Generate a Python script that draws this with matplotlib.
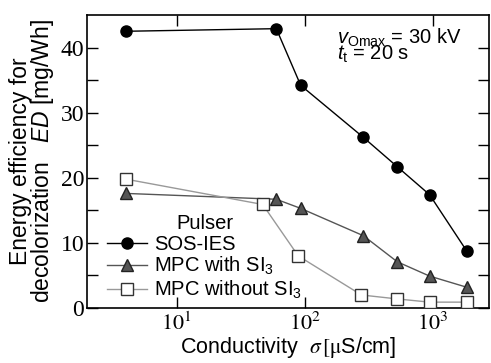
import numpy as np
import matplotlib.pyplot as plt
from matplotlib.ticker import FixedLocator, FuncFormatter, NullLocator

plt.rcParams['font.family'] = 'Liberation Sans'
plt.rcParams['mathtext.fontset'] = 'custom'
plt.rcParams['mathtext.rm'] = 'Liberation Sans'
plt.rcParams['mathtext.it'] = 'Liberation Sans:italic'

# conductivity [uS/cm] and energy efficiency [mg/Wh]
sos_x = [4.0, 60, 93, 287, 527, 942, 1830]
sos_y = [42.5, 42.9, 34.2, 26.2, 21.7, 17.4, 8.8]
mpc_si_x = [4.0, 60, 93, 287, 527, 942, 1830]
mpc_si_y = [17.6, 16.7, 15.3, 11.1, 7.1, 4.9, 3.2]
mpc_x = [4.0, 47, 89, 277, 523, 942, 1830]
mpc_y = [19.8, 15.9, 8.0, 2.0, 1.4, 0.9, 0.9]

fig = plt.figure(figsize=(4.91, 3.63), dpi=100)
ax = fig.add_axes([87/491, 1-308/363, (489-87)/491, (308-15)/363])

ax.plot(sos_x, sos_y, '-o', color='black', lw=1, ms=8, mfc='black', mec='black',
        label='SOS-IES', zorder=4)
ax.plot(mpc_si_x, mpc_si_y, '-^', color='#555555', lw=1, ms=9, mfc='#555555', mec='#222222',
        label='MPC with SI$_3$', zorder=3)
ax.plot(mpc_x, mpc_y, '-s', color='#999999', lw=1, ms=8, mfc='white', mec='#333333',
        label='MPC without SI$_3$', zorder=3)

ax.set_xscale('log')
ax.set_xlim(2, 2740)
ax.set_ylim(0, 45)
ax.xaxis.set_major_locator(FixedLocator([10, 100, 1000]))
ax.xaxis.set_minor_locator(NullLocator())
ax.xaxis.set_major_formatter(FuncFormatter(lambda v, p: '$10^{%d}$' % round(np.log10(v))))
ax.set_yticks(np.arange(0, 45, 5))
ax.set_yticklabels(['0', '', '10', '', '20', '', '30', '', '40'])
ax.tick_params(direction='in', length=8, width=1, top=True, right=True, labelsize=17)
ax.tick_params(axis='x', labelsize=16, pad=3)
ax.tick_params(axis='y', pad=2)
for lab in ax.get_yticklabels():
    lab.set_fontfamily('Liberation Serif')
for lab in ax.get_xticklabels():
    lab.set_math_fontfamily('stix')
    lab.set_fontfamily('Liberation Serif')
for s in ax.spines.values():
    s.set_linewidth(1.2)

ax.set_xlabel('Conductivity  $\\sigma\\,[\\mathrm{\\mu}$S/cm]', fontsize=15.5,
              math_fontfamily='stix', labelpad=0)
ax.set_ylabel('Energy efficiency for\ndecolorization   $ED$ [mg/Wh]', fontsize=16.5,
              linespacing=0.85)
ax.yaxis.set_label_coords(-0.078, 0.5)

ax.annotate('$v_{\\mathrm{Omax}}$ = 30 kV', xy=(337/491, 1-44/363), xycoords='figure fraction',
            fontsize=14.5)
ax.annotate('$t_{\\mathrm{t}}$ = 20 s', xy=(337/491, 1-60/363), xycoords='figure fraction',
            fontsize=14.5)

leg = ax.legend(title='Pulser', loc='lower left', bbox_to_anchor=(0.03, -0.005), frameon=False,
                fontsize=14.5, title_fontsize=14.5, handlelength=2.0, handletextpad=0.35,
                labelspacing=0.08, borderaxespad=0.0)

fig.savefig('out.png', dpi=100)
